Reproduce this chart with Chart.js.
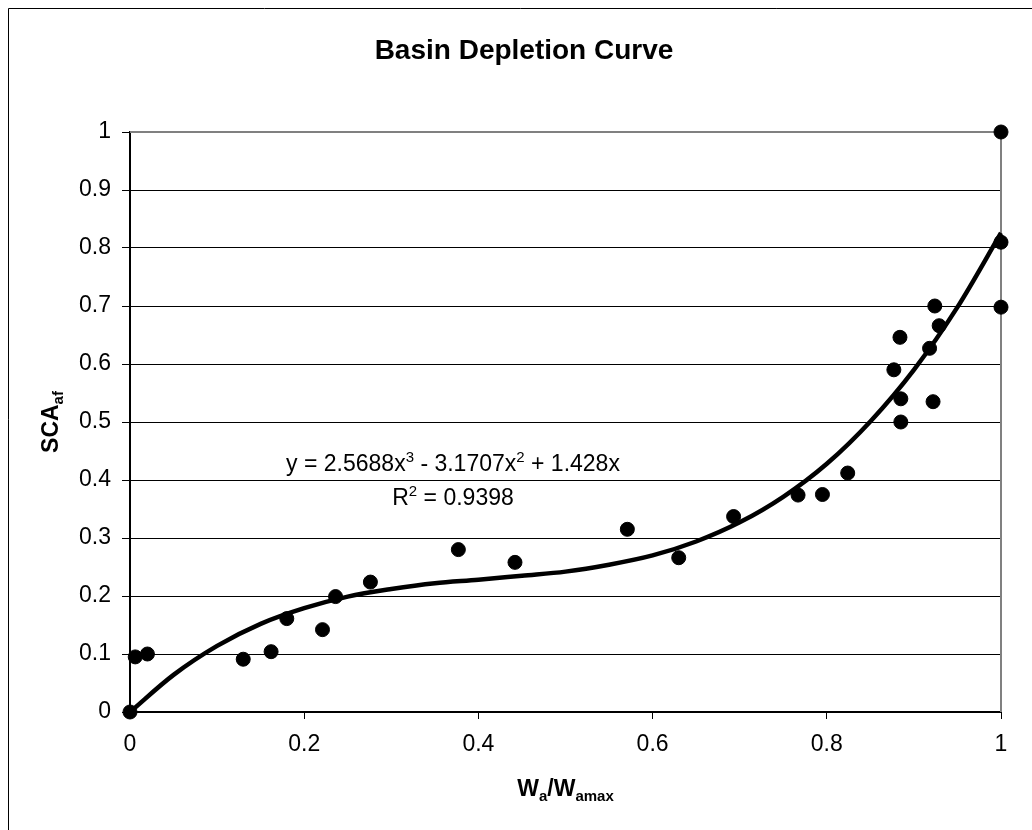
<!DOCTYPE html>
<html>
<head>
<meta charset="utf-8">
<title>Basin Depletion Curve</title>
<script src="https://cdn.jsdelivr.net/npm/chart.js@4.4.1/dist/chart.umd.min.js"></script>
<style>
    html, body { margin: 0; padding: 0; background: #fff; }
    #chart { display: block; }
</style>
</head>
<body>
<canvas id="chart" width="1032" height="830"></canvas>
<script>
// Observed points (Wa/Wamax, SCAaf)
const waRatio = [0, 0.006, 0.020, 0.130, 0.162, 0.180, 0.221, 0.236, 0.276, 0.377,
                 0.442, 0.571, 0.630, 0.693, 0.767, 0.795, 0.824, 0.877, 0.884, 0.885,
                 0.885, 0.918, 0.922, 0.924, 0.929, 1.000, 1.000, 1.000];
const scaAf   = [0, 0.095, 0.100, 0.091, 0.104, 0.161, 0.142, 0.199, 0.224, 0.280,
                 0.258, 0.315, 0.266, 0.337, 0.374, 0.375, 0.412, 0.590, 0.646, 0.540,
                 0.500, 0.627, 0.535, 0.700, 0.666, 1.000, 0.810, 0.698];

// Trendline
const trendX = [0, 0.05, 0.1, 0.15, 0.2, 0.25, 0.3, 0.35, 0.4, 0.45, 0.5,
                0.55, 0.6, 0.65, 0.7, 0.75, 0.8, 0.85, 0.9, 0.95, 1];
const trendY = [0, 0.064, 0.114, 0.152, 0.179, 0.199, 0.212, 0.222, 0.228, 0.235, 0.242,
                0.254, 0.270, 0.294, 0.327, 0.371, 0.428, 0.501, 0.590, 0.698, 0.826];

const xTickLabels = ['0', '0.2', '0.4', '0.6', '0.8', '1'];
const yTickLabels = ['0', '0.1', '0.2', '0.3', '0.4', '0.5', '0.6', '0.7', '0.8', '0.9', '1'];

const FONT = '"Liberation Sans", Arial, Helvetica, sans-serif';

// draw text made of runs (normal / sup / sub), centred on x
function drawRuns(ctx, runs, x, y, size, bold) {
    const w = bold ? 'bold ' : '';
    let total = 0;
    runs.forEach(r => {
        const s = r.mode ? Math.round(size * 0.65) : size;
        ctx.font = w + s + 'px ' + FONT;
        r.w = ctx.measureText(r.t).width;
        total += r.w;
    });
    let cx = x - total / 2;
    runs.forEach(r => {
        const s = r.mode ? Math.round(size * 0.65) : size;
        ctx.font = w + s + 'px ' + FONT;
        let dy = 0;
        if (r.mode === 'sup') dy = -size * 0.38;
        if (r.mode === 'sub') dy = size * 0.2;
        ctx.fillText(r.t, cx, y + dy);
        cx += r.w;
    });
}

const decorPlugin = {
    id: 'decor',
    beforeDraw(chart) {
        const ctx = chart.ctx;
        ctx.save();
        ctx.fillStyle = '#fff';
        ctx.fillRect(0, 0, chart.width, chart.height);
        ctx.restore();
    },
    beforeDatasetsDraw(chart) {
        const ctx = chart.ctx;
        const a = chart.chartArea;
        ctx.save();
        // plot area frame (top/right)
        ctx.strokeStyle = '#808080';
        ctx.lineWidth = 2;
        ctx.beginPath();
        ctx.moveTo(a.left, a.top);
        ctx.lineTo(a.right, a.top);
        ctx.lineTo(a.right, a.bottom);
        ctx.stroke();
        ctx.restore();
    },
    afterDraw(chart) {
        const ctx = chart.ctx;
        const a = chart.chartArea;
        ctx.save();
        // chart border
        ctx.strokeStyle = '#000';
        ctx.lineWidth = 1;
        ctx.beginPath();
        ctx.moveTo(8.5, chart.height);
        ctx.lineTo(8.5, 8.5);
        ctx.lineTo(chart.width, 8.5);
        ctx.stroke();

        ctx.fillStyle = '#000';
        ctx.textBaseline = 'alphabetic';
        ctx.textAlign = 'left';
        // title
        drawRuns(ctx, [{ t: 'Basin Depletion Curve' }], 524, 59, 28, true);
        // x axis title
        drawRuns(ctx, [{ t: 'W' }, { t: 'a', mode: 'sub' }, { t: '/W' }, { t: 'amax', mode: 'sub' }],
            (a.left + a.right) / 2, 796, 23, true);
        // y axis title
        ctx.save();
        ctx.translate(58, (a.top + a.bottom) / 2);
        ctx.rotate(-Math.PI / 2);
        drawRuns(ctx, [{ t: 'SCA' }, { t: 'af', mode: 'sub' }], 0, 0, 23, true);
        ctx.restore();
        // trendline equation
        drawRuns(ctx, [{ t: 'y = 2.5688x' }, { t: '3', mode: 'sup' }, { t: ' - 3.1707x' },
            { t: '2', mode: 'sup' }, { t: ' + 1.428x' }], 453, 471, 23, false);
        drawRuns(ctx, [{ t: 'R' }, { t: '2', mode: 'sup' }, { t: ' = 0.9398' }], 453, 505, 23, false);
        ctx.restore();
    }
};

const pointData = waRatio.map((x, i) => ({ x: x, y: scaAf[i] }));
const trendData = trendX.map((x, i) => ({ x: x, y: trendY[i] }));

new Chart(document.getElementById('chart'), {
    type: 'scatter',
    data: {
        datasets: [
            {
                label: 'SCAaf',
                data: pointData,
                backgroundColor: '#000',
                borderColor: '#000',
                pointRadius: 7,
                pointHoverRadius: 7,
                clip: false,
                order: 1
            },
            {
                label: 'Poly. trend',
                type: 'line',
                data: trendData,
                borderColor: '#000',
                borderWidth: 4.5,
                pointRadius: 0,
                fill: false,
                clip: false,
                cubicInterpolationMode: 'monotone',
                order: 2
            }
        ]
    },
    options: {
        responsive: false,
        animation: false,
        devicePixelRatio: 1,
        layout: { padding: { top: 132, right: 31, bottom: 0, left: 0 } },
        plugins: {
            legend: { display: false },
            title: { display: false },
            tooltip: { enabled: false }
        },
        scales: {
            x: {
                type: 'linear',
                min: 0,
                max: 1,
                afterFit: s => { s.height = 118; },
                border: { color: '#000', width: 2 },
                grid: { drawOnChartArea: false, drawTicks: true, tickLength: 7, color: '#000' },
                ticks: {
                    stepSize: 0.2,
                    padding: 12,
                    color: '#000',
                    font: { family: FONT, size: 23 },
                    callback: (v, i) => xTickLabels[i]
                }
            },
            y: {
                type: 'linear',
                min: 0,
                max: 1,
                afterFit: s => { s.width = 130; },
                border: { color: '#000', width: 2 },
                grid: {
                    color: c => (c.tick && c.tick.value === 1) ? '#808080' : '#000',
                    tickColor: '#000',
                    lineWidth: 1,
                    tickLength: 8
                },
                ticks: {
                    stepSize: 0.1,
                    padding: 11,
                    color: '#000',
                    font: { family: FONT, size: 23 },
                    callback: (v, i) => yTickLabels[i]
                }
            }
        }
    },
    plugins: [decorPlugin]
});
</script>
</body>
</html>
